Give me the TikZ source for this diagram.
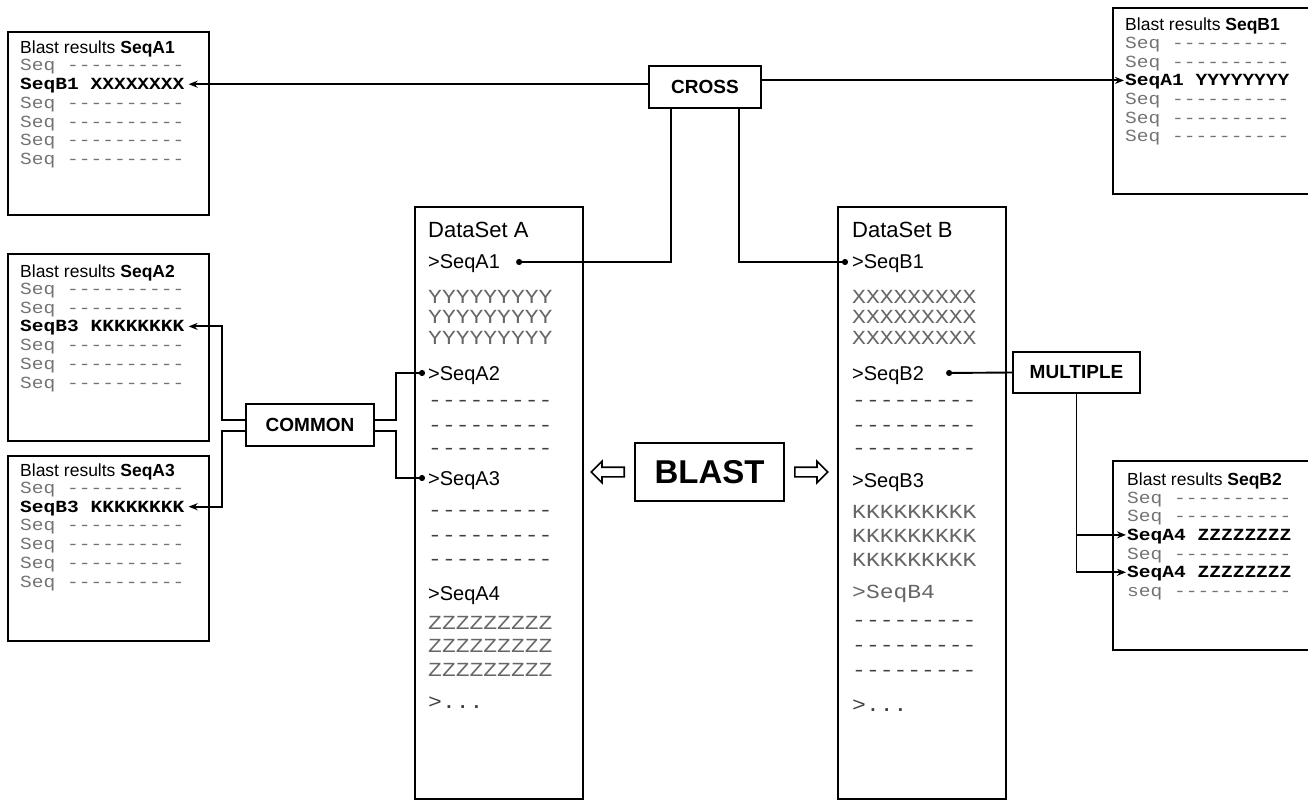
\documentclass[tikz,border=0pt]{standalone}
\usepackage{fontspec}
\setmainfont{Liberation Sans}
\setmonofont{Liberation Mono}[FakeStretch=1.15]
\usetikzlibrary{positioning,shapes.arrows,arrows.meta}

\tikzset{
  resbox/.style={draw, line width=2pt, anchor=north west, inner sep=0pt},
  setbox/.style={draw, line width=2pt, anchor=north west, inner sep=0pt, minimum width=168pt, minimum height=592pt},
  tag/.style={draw, line width=2pt, font=\fontsize{19}{22}\selectfont\bfseries, minimum height=42pt},
  conn/.style={line width=1.9pt},
  txt/.style={anchor=base west, inner sep=0pt},
  reshead/.style={txt, font=\fontsize{17.5}{20}\selectfont},
  resrow/.style={txt, font=\fontsize{17}{19}\selectfont\ttfamily, text=black!55, text height=11pt, text depth=0pt},
  reshit/.style={resrow, font=\fontsize{17}{19}\selectfont\ttfamily\bfseries, text=black},
  sethead/.style={txt, font=\fontsize{22}{24}\selectfont},
  setseq/.style={txt, font=\fontsize{20}{22}\selectfont, text height=14pt, text depth=0pt},
  setrow/.style={txt, font=\fontsize{20}{22}\selectfont\ttfamily, text=black!60},
  setdash/.style={setrow, text=black!75},
  hollow/.style={single arrow, draw, line width=1.6pt, minimum height=33pt, minimum width=20pt, inner sep=4pt, single arrow head extend=6pt}
}

\begin{document}
\begin{tikzpicture}[x=1pt, y=-1pt, >={Stealth[length=9pt,width=7pt]}]
\useasboundingbox (0,0) rectangle (1308,802);

% result boxes
\node[resbox, minimum width=201pt, minimum height=183pt] (resA1) at (7,31) {};
\node[resbox, minimum width=201pt, minimum height=187pt] (resA2) at (7,253) {};
\node[resbox, minimum width=201pt, minimum height=185pt] (resA3) at (7,455) {};
\node[resbox, minimum width=220pt, minimum height=186pt] (resB1) at (1112,7) {};
\node[resbox, minimum width=220pt, minimum height=189pt] (resB2) at (1112,460) {};

% SeqA1 results
\node[reshead] (hA1) at (20,53.5) {Blast results \textbf{SeqA1}};
\node[resrow] (rA1a) at (20,71) {Seq ----------};
\node[reshit] (hitA1) at (20,89.7) {SeqB1 XXXXXXXX};
\node[resrow] (rA1b) at (20,108.4) {Seq ----------};
\node[resrow] (rA1c) at (20,127.1) {Seq ----------};
\node[resrow] (rA1d) at (20,145.8) {Seq ----------};
\node[resrow] (rA1e) at (20,164.5) {Seq ----------};

% SeqA2 results
\node[reshead] (hA2) at (20,277) {Blast results \textbf{SeqA2}};
\node[resrow] (rA2a) at (20,294.5) {Seq ----------};
\node[resrow] (rA2b) at (20,313.2) {Seq ----------};
\node[reshit] (hitA2) at (20,331.9) {SeqB3 KKKKKKKK};
\node[resrow] (rA2c) at (20,350.6) {Seq ----------};
\node[resrow] (rA2d) at (20,369.3) {Seq ----------};
\node[resrow] (rA2e) at (20,388) {Seq ----------};

% SeqA3 results
\node[reshead] (hA3) at (20,476) {Blast results \textbf{SeqA3}};
\node[resrow] (rA3a) at (20,493.5) {Seq ----------};
\node[reshit] (hitA3) at (20,512.2) {SeqB3 KKKKKKKK};
\node[resrow] (rA3b) at (20,530.9) {Seq ----------};
\node[resrow] (rA3c) at (20,549.6) {Seq ----------};
\node[resrow] (rA3d) at (20,568.3) {Seq ----------};
\node[resrow] (rA3e) at (20,587) {Seq ----------};

% SeqB1 results
\node[reshead] (hB1) at (1125,31) {Blast results \textbf{SeqB1}};
\node[resrow] (rB1a) at (1125,48.5) {Seq ----------};
\node[resrow] (rB1b) at (1125,67.2) {Seq ----------};
\node[reshit] (hitB1) at (1125,85.9) {SeqA1 YYYYYYYY};
\node[resrow] (rB1c) at (1125,104.6) {Seq ----------};
\node[resrow] (rB1d) at (1125,123.3) {Seq ----------};
\node[resrow] (rB1e) at (1125,142) {Seq ----------};

% SeqB2 results
\node[reshead] (hB2) at (1127,485) {Blast results \textbf{SeqB2}};
\node[resrow] (rB2a) at (1127,503) {Seq ----------};
\node[resrow] (rB2b) at (1127,521.7) {Seq ----------};
\node[reshit] (hitB2a) at (1127,540.4) {SeqA4 ZZZZZZZZ};
\node[resrow] (rB2c) at (1127,559.1) {Seq ----------};
\node[reshit] (hitB2b) at (1127,577.8) {SeqA4 ZZZZZZZZ};
\node[resrow] (rB2d) at (1127,596.5) {seq ----------};

% data sets
\node[setbox] (setA) at (414,206) {};
\node[sethead] (hSetA) at (428,238) {DataSet A};
\node[setseq] (sA1) at (428,269) {>SeqA1};
\node[setrow] (yA1) at (428,303) {YYYYYYYYY};
\node[setrow] (yA2) at (428,323.5) {YYYYYYYYY};
\node[setrow] (yA3) at (428,344) {YYYYYYYYY};
\node[setseq] (sA2) at (428,380) {>SeqA2};
\node[setdash] (dA1) at (428,406.5) {---------};
\node[setdash] (dA2) at (428,431.5) {---------};
\node[setdash] (dA3) at (428,454.5) {---------};
\node[setseq] (sA3) at (428,485) {>SeqA3};
\node[setdash] (dA4) at (428,516.5) {---------};
\node[setdash] (dA5) at (428,541.5) {---------};
\node[setdash] (dA6) at (428,565.5) {---------};
\node[setseq] (sA4) at (428,600) {>SeqA4};
\node[setrow] (zA1) at (428,629) {ZZZZZZZZZ};
\node[setrow] (zA2) at (428,652.5) {ZZZZZZZZZ};
\node[setrow] (zA3) at (428,676) {ZZZZZZZZZ};
\node[setdash] (moreA) at (428,708) {>...};

\node[setbox] (setB) at (837,206) {};
\node[sethead] (hSetB) at (852,238) {DataSet B};
\node[setseq] (sB1) at (852,269) {>SeqB1};
\node[setrow] (xB1) at (852,303) {XXXXXXXXX};
\node[setrow] (xB2) at (852,323.5) {XXXXXXXXX};
\node[setrow] (xB3) at (852,344) {XXXXXXXXX};
\node[setseq] (sB2) at (852,380) {>SeqB2};
\node[setdash] (dB1) at (852,406.5) {---------};
\node[setdash] (dB2) at (852,431.5) {---------};
\node[setdash] (dB3) at (852,454.5) {---------};
\node[setseq] (sB3) at (852,487) {>SeqB3};
\node[setrow] (kB1) at (852,518) {KKKKKKKKK};
\node[setrow] (kB2) at (852,542.5) {KKKKKKKKK};
\node[setrow] (kB3) at (852,566) {KKKKKKKKK};
\node[setrow] (sB4) at (852,598.5) {>SeqB4};
\node[setdash] (dB4) at (852,626.5) {---------};
\node[setdash] (dB5) at (852,651.5) {---------};
\node[setdash] (dB6) at (852,676.5) {---------};
\node[setdash] (moreB) at (852,711) {>...};

% labels
\node[tag, minimum width=112pt] (cross) at (705,87) {CROSS};
\node[tag, minimum width=128pt] (common) at (310,425) {COMMON};
\node[tag, minimum width=127pt, minimum height=41pt] (multiple) at (1076.5,372.5) {MULTIPLE};
\node[tag, minimum width=149pt, minimum height=58pt, font=\fontsize{33}{36}\selectfont\bfseries] (blast) at (709.5,472) {BLAST};
\node[hollow, shape border rotate=180, left=9pt of blast] (toA) {};
\node[hollow, right=9pt of blast] (toB) {};

% cross hits
\draw[conn, ->, shorten >=4pt] (hitA1.east -| cross.west) -- (hitA1.east);
\draw[conn, ->, shorten >=1pt] (hitB1.west -| cross.east) -- (hitB1.west);
\draw[conn, {Circle[length=6pt]}-] ([xshift=16pt]sA1.east) -| ([xshift=-34pt]cross.south);
\draw[conn, -{Circle[length=6pt]}] ([xshift=34pt]cross.south) |- ([xshift=-4pt]sB1.west);

% common hits
\draw[conn, ->, shorten >=4pt] ([yshift=5pt]common.west) -- ++(-23,0) |- (hitA2.east);
\draw[conn, ->, shorten >=4pt] ([yshift=-6pt]common.west) -- ++(-23,0) |- (hitA3.east);
\draw[conn, -{Circle[length=6pt]}] ([yshift=5pt]common.east) -- ++(21,0) |- ([xshift=-3pt]sA2.west);
\draw[conn, -{Circle[length=6pt]}] ([yshift=-6pt]common.east) -- ++(21,0) |- ([xshift=-3pt]sA3.west);

% multiple hits
\draw[conn, {Circle[length=6pt]}-] ([xshift=22pt]sB2.east) -- (multiple.west);
\draw[conn, ->, shorten >=1pt] (multiple.south) |- (hitB2a.west);
\draw[conn, ->, shorten >=1pt] (multiple.south) |- (hitB2b.west);
\end{tikzpicture}
\end{document}
